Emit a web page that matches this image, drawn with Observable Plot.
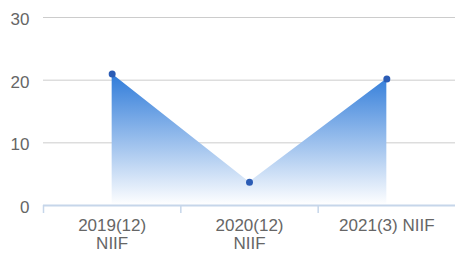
<!DOCTYPE html>
<html>
<head>
<meta charset="utf-8">
<script src="https://cdn.jsdelivr.net/npm/d3@7"></script>
<script src="https://cdn.jsdelivr.net/npm/@observablehq/plot@0.6"></script>
<style>
  html, body { margin: 0; padding: 0; background: #fff; }
</style>
</head>
<body>
<div id="chart"></div>
<script>
const categories = ["2019(12) NIIF", "2020(12) NIIF", "2021(3) NIIF"];
const values = [21.0, 3.7, 20.2];
const yTicks = [0, 10, 20, 30];

const data = categories.map((c, i) => ({i, c, v: values[i]}));
const boundaries = d3.range(categories.length).map(i => i - 0.5);

// wrap labels that are too long for one band (as the reference does)
const wrapLabel = s => s.length > 12 ? s.replace(/ (?=[^ ]*$)/, "\n") : s;

const axisColor = "#c6d6ea";
const textColor = "#666666";

const svg = Plot.plot({
  width: 455,
  height: 253,
  marginTop: 17,
  marginBottom: 48,
  marginLeft: 43,
  marginRight: 0,
  style: {fontFamily: "'Liberation Sans', Arial, sans-serif", background: "#fff"},
  x: {domain: [-0.5, categories.length - 0.5], label: null},
  y: {domain: [0, 30], label: null},
  marks: [
    Plot.gridY(yTicks.filter(d => d > 0), {stroke: "#cccccc", strokeOpacity: 1}),
    Plot.areaY(data, {x: "i", y: "v", fill: "url(#areaGrad)"}),
    Plot.ruleY([0], {stroke: axisColor, strokeWidth: 2}),
    Plot.axisX({ticks: boundaries, tickFormat: () => "", tickSize: 8, stroke: axisColor, strokeWidth: 1.5, label: null}),
    Plot.axisX({ticks: d3.range(categories.length), tickFormat: i => wrapLabel(categories[i]), tickSize: 0, tickPadding: 12,
      fontSize: 17, fill: textColor, lineHeight: 1.1, label: null}),
    Plot.axisY({ticks: yTicks, tickSize: 0, tickPadding: 14, fontSize: 17, fill: textColor, dy: 2, label: null}),
    Plot.dot(data, {x: "i", y: "v", r: 3.5, fill: "#2b5cb5", stroke: null})
  ]
});

const ns = "http://www.w3.org/2000/svg";
const defs = document.createElementNS(ns, "defs");
const grad = document.createElementNS(ns, "linearGradient");
grad.setAttribute("id", "areaGrad");
grad.setAttribute("x1", "0"); grad.setAttribute("y1", "0");
grad.setAttribute("x2", "0"); grad.setAttribute("y2", "1");
[["0%", "#2f7bd9", 1], ["100%", "#ffffff", 1]].forEach(([o, c, op]) => {
  const s = document.createElementNS(ns, "stop");
  s.setAttribute("offset", o);
  s.setAttribute("stop-color", c);
  s.setAttribute("stop-opacity", op);
  grad.appendChild(s);
});
defs.appendChild(grad);
svg.insertBefore(defs, svg.firstChild);

document.getElementById("chart").appendChild(svg);
</script>
</body>
</html>
